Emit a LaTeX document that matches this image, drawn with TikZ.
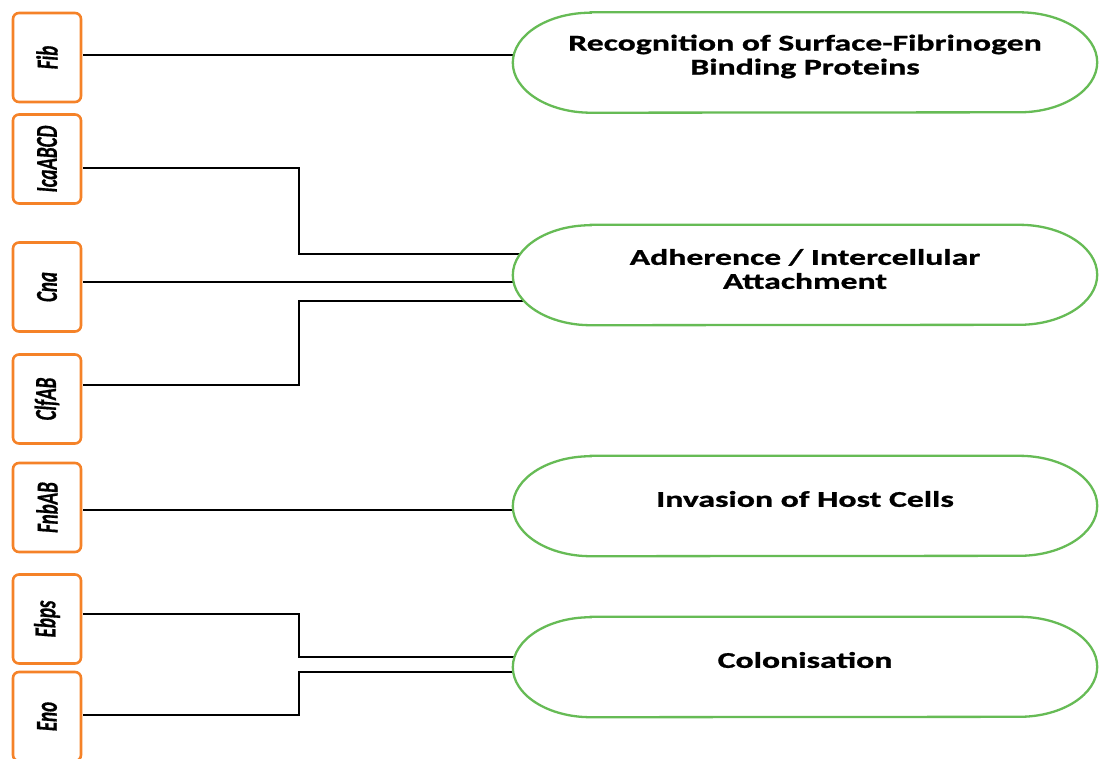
\documentclass[tikz,border=0pt]{standalone}
\usepackage{fontspec}
\newfontfamily\genefont[FakeBold=0.8]{Carlito}
\newfontfamily\rolefont[FakeStretch=1.5,FakeBold=1]{Carlito}
\definecolor{geneorange}{RGB}{245,130,40}
\definecolor{rolegreen}{RGB}{102,187,85}
\tikzstyle{gene}=[draw=geneorange,line width=2.6pt,rounded corners=6pt,rotate=90,yscale=1.6,minimum width=89pt,minimum height=42.5pt,inner sep=0pt,font=\genefont\bfseries\itshape\fontsize{19}{20}\selectfont]
\tikzstyle{role}=[minimum width=584pt,minimum height=100pt,inner sep=0pt]
\tikzstyle{rolebox}=[draw=rolegreen,line width=2.3pt,fill=white]
\tikzstyle{rolelbl}=[align=center,font=\rolefont\bfseries\fontsize{22.5}{24}\selectfont]
\tikzstyle{conn}=[line width=2.6pt,black]
\newcommand{\rolepill}[1]{\draw[rolebox] ([xshift=78pt]#1.north west) -- ([xshift=-78pt]#1.north east) arc[start angle=90,end angle=-90,x radius=78pt,y radius=50pt] -- ([xshift=78pt]#1.south west) arc[start angle=270,end angle=90,x radius=78pt,y radius=50pt] -- cycle;}

\begin{document}
\begin{tikzpicture}[x=1pt,y=1pt]
\useasboundingbox (0,0) rectangle (1099,-758);
\node[gene] (fib) at (47,-57.5) {Fib};
\node[gene] (ica) at (47,-159) {IcaABCD};
\node[gene] (cna) at (47,-287) {Cna};
\node[gene] (clf) at (47,-399) {ClfAB};
\node[gene] (fnb) at (47,-507.5) {FnbAB};
\node[gene] (ebps) at (47,-619) {Ebps};
\node[gene] (eno) at (47,-716.5) {Eno};
\node[role] (rec) at (805,-62.5) {};
\node[role] (adh) at (805,-275) {};
\node[role] (inv) at (805,-506) {};
\node[role] (col) at (805,-667) {};
\draw[conn] ([yshift=2.5pt]fib.south) -- ([yshift=7.5pt,xshift=18pt]rec.west);
\draw[conn] ([yshift=-9pt]ica.south) -- ++(216,0) |- ([yshift=21pt,xshift=18pt]adh.west);
\draw[conn] ([yshift=5pt]cna.south) -- ([yshift=-7pt,xshift=18pt]adh.west);
\draw[conn] ([yshift=14pt]clf.south) -- ++(216,0) |- ([yshift=-26pt,xshift=18pt]adh.west);
\draw[conn] ([yshift=-2.5pt]fnb.south) -- ([yshift=-4pt,xshift=18pt]inv.west);
\draw[conn] ([yshift=5pt]ebps.south) -- ++(216,0) |- ([yshift=10pt,xshift=18pt]col.west);
\draw[conn] ([yshift=1.5pt]eno.south) -- ++(216,0) |- ([yshift=-5pt,xshift=18pt]col.west);
\rolepill{rec}
\rolepill{adh}
\rolepill{inv}
\rolepill{col}
\node[rolelbl] (recT) at ([yshift=6pt]rec.center) {Recognition of Surface-Fibrinogen\\Binding Proteins};
\node[rolelbl] (adhT) at ([yshift=6pt]adh.center) {Adherence / Intercellular\\Attachment};
\node[rolelbl] (invT) at ([yshift=7pt]inv.center) {Invasion of Host Cells};
\node[rolelbl] (colT) at ([yshift=7pt]col.center) {Colonisation};
\end{tikzpicture}
\end{document}
